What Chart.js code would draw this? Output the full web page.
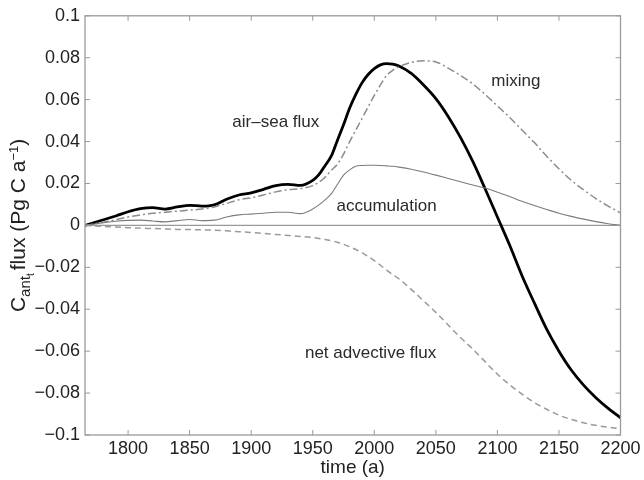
<!DOCTYPE html>
<html>
<head>
<meta charset="utf-8">
<script src="https://cdn.jsdelivr.net/npm/chart.js@4.4.1/dist/chart.umd.min.js"></script>
<style>
  body { margin: 0; background: #fff; }
  canvas { display: block; }
</style>
</head>
<body>
<canvas id="chart" width="644" height="480"></canvas>
<script>
// values (Pg C per year)
const years = [1765, 1780, 1790, 1800, 1810, 1820, 1830, 1840, 1850, 1860, 1870, 1880, 1890,
  1900, 1910, 1920, 1930, 1940, 1950, 1955, 1960, 1965, 1970, 1975, 1980, 1985, 1990, 1995,
  2000, 2005, 2010, 2015, 2020, 2030, 2040, 2050, 2060, 2070, 2080, 2090, 2100, 2110, 2120,
  2130, 2140, 2150, 2160, 2170, 2180, 2190, 2200];

const airSea = [0, 0.0027, 0.0045, 0.0065, 0.0080, 0.0085, 0.0078, 0.0088, 0.0096, 0.0092, 0.0098,
  0.0125, 0.0145, 0.0155, 0.0172, 0.0190, 0.0196, 0.0191, 0.0215, 0.0242, 0.0285, 0.0330,
  0.0405, 0.0480, 0.0560, 0.0625, 0.0680, 0.0720, 0.0748, 0.0766, 0.0772, 0.0770, 0.0760,
  0.0725, 0.0670, 0.0605, 0.0520, 0.0420, 0.0305, 0.0175, 0.0040, -0.0095, -0.0240, -0.0370,
  -0.0495, -0.0600, -0.0690, -0.0762, -0.0822, -0.0873, -0.0918];

const mixing = [0, 0.0015, 0.0027, 0.0040, 0.0050, 0.0058, 0.0063, 0.0068, 0.0073, 0.0078, 0.0088,
  0.0105, 0.0122, 0.0132, 0.0145, 0.0160, 0.0170, 0.0175, 0.0190, 0.0206, 0.0230, 0.0262,
  0.0292, 0.0340, 0.0400, 0.0455, 0.0510, 0.0565, 0.0620, 0.0670, 0.0715, 0.0740, 0.0757,
  0.0778, 0.0785, 0.0780, 0.0750, 0.0715, 0.0675, 0.0625, 0.0570, 0.0515, 0.0455, 0.0395,
  0.0330, 0.0270, 0.0215, 0.0170, 0.0128, 0.0092, 0.0060];

const accumulation = [0, 0.0013, 0.0020, 0.0024, 0.0025, 0.0021, 0.0017, 0.0023, 0.0028, 0.0023,
  0.0025, 0.0040, 0.0050, 0.0054, 0.0058, 0.0063, 0.0063, 0.0056, 0.0078, 0.0098, 0.0122,
  0.0150, 0.0195, 0.0240, 0.0265, 0.0282, 0.0286, 0.0287, 0.0287, 0.0286, 0.0284, 0.0282,
  0.0278, 0.0268, 0.0255, 0.0240, 0.0224, 0.0208, 0.0193, 0.0178, 0.0158, 0.0138, 0.0115,
  0.0095, 0.0076, 0.0058, 0.0043, 0.0030, 0.0018, 0.0008, 0];

const netAdvective = [0, -0.0005, -0.0008, -0.0011, -0.0013, -0.0015, -0.0017, -0.0019, -0.0020,
  -0.0021, -0.0023, -0.0026, -0.0030, -0.0034, -0.0038, -0.0043, -0.0048, -0.0053, -0.0058,
  -0.0062, -0.0067, -0.0073, -0.0080, -0.0090, -0.0102, -0.0115, -0.0130, -0.0148, -0.0168,
  -0.0190, -0.0213, -0.0235, -0.0255, -0.0305, -0.0360, -0.0415, -0.0475, -0.0535, -0.0590,
  -0.0650, -0.0710, -0.0760, -0.0805, -0.0845, -0.0877, -0.0905, -0.0926, -0.0942, -0.0954,
  -0.0963, -0.0970];

const xTicks = [1800, 1850, 1900, 1950, 2000, 2050, 2100, 2150, 2200];
const yTicks = [-0.1, -0.08, -0.06, -0.04, -0.02, 0, 0.02, 0.04, 0.06, 0.08, 0.1];

// curve names written in the plot, anchored in data units
const curveNames = [
  { text: "air\u2013sea flux", x: 1920, y: 0.047 },
  { text: "mixing", x: 2115, y: 0.0663 },
  { text: "accumulation", x: 2010, y: 0.0069 },
  { text: "net advective flux", x: 1997, y: -0.0633 },
];

const FONT = '"Liberation Sans", Arial, Helvetica, sans-serif';
const pts = vals => years.map((x, i) => ({ x, y: vals[i] }));

function line(vals, color, width, dash) {
  return {
    data: pts(vals),
    borderColor: color,
    borderWidth: width,
    borderDash: dash || [],
    pointRadius: 0,
    fill: false,
    cubicInterpolationMode: "monotone",
  };
}

// draw "C_{ant_t} flux (Pg C a^{-1})" rotated, centred on the plot
function drawYTitle(ctx, area) {
  const parts = [
    { t: "C", size: 21, dy: 0 },
    { t: "ant", size: 15, dy: 5 },
    { t: "t", size: 10, dy: 9, noAdvance: true },
    { t: " flux (Pg C a", size: 21, dy: 0 },
    { t: "\u22121", size: 13, dy: -7 },
    { t: ")", size: 21, dy: 0 },
  ];
  let total = 0;
  parts.forEach(p => {
    ctx.font = p.size + "px " + FONT;
    p.w = ctx.measureText(p.t).width;
    if (!p.noAdvance) total += p.w;
  });
  ctx.save();
  ctx.translate(25, (area.top + area.bottom) / 2 + total / 2);
  ctx.rotate(-Math.PI / 2);
  ctx.fillStyle = "#222";
  ctx.textBaseline = "alphabetic";
  ctx.textAlign = "left";
  let x = 0;
  parts.forEach(p => {
    ctx.font = p.size + "px " + FONT;
    ctx.fillText(p.t, x, p.dy);
    if (!p.noAdvance) x += p.w;
  });
  ctx.restore();
}

const frame = {
  id: "frame",
  beforeDatasetsDraw(chart) {
    const { ctx, chartArea: a, scales: { y } } = chart;
    const y0 = y.getPixelForValue(0);
    ctx.save();
    ctx.strokeStyle = "#999";
    ctx.lineWidth = 1.2;
    ctx.beginPath();
    ctx.moveTo(a.left, y0);
    ctx.lineTo(a.right, y0);
    ctx.stroke();
    ctx.restore();
  },
  afterDatasetsDraw(chart) {
    const { ctx, chartArea: a, scales: { x, y } } = chart;
    ctx.save();
    ctx.strokeStyle = "#9a9a9a";
    ctx.lineWidth = 1.3;
    ctx.strokeRect(a.left, a.top, a.right - a.left, a.bottom - a.top);
    ctx.lineWidth = 1;
    ctx.beginPath();
    xTicks.forEach(v => {
      const px = x.getPixelForValue(v);
      ctx.moveTo(px, a.bottom); ctx.lineTo(px, a.bottom - 5);
      ctx.moveTo(px, a.top); ctx.lineTo(px, a.top + 5);
    });
    yTicks.forEach(v => {
      const py = y.getPixelForValue(v);
      ctx.moveTo(a.left, py); ctx.lineTo(a.left + 5, py);
      ctx.moveTo(a.right, py); ctx.lineTo(a.right - 5, py);
    });
    ctx.stroke();

    ctx.fillStyle = "#2a2a2a";
    ctx.font = "17px " + FONT;
    ctx.textAlign = "center";
    ctx.textBaseline = "alphabetic";
    curveNames.forEach(n => {
      ctx.fillText(n.text, x.getPixelForValue(n.x), y.getPixelForValue(n.y));
    });
    ctx.restore();
    drawYTitle(ctx, a);
  },
};

new Chart(document.getElementById("chart"), {
  type: "line",
  data: {
    datasets: [
      line(netAdvective, "#9a9a9a", 1.5, [6, 4]),
      line(accumulation, "#7c7c7c", 1.1),
      line(mixing, "#8c8c8c", 1.5, [8, 3, 2, 3]),
      line(airSea, "#000", 2.8),
    ],
  },
  options: {
    responsive: false,
    animation: false,
    layout: { padding: { top: 13, right: 23.5, left: 0, bottom: 0 } },
    plugins: { legend: { display: false }, tooltip: { enabled: false } },
    scales: {
      x: {
        type: "linear",
        min: 1765,
        max: 2200,
        afterBuildTicks: s => { s.ticks = xTicks.map(v => ({ value: v })); },
        afterFit: s => { s.height = 45; },
        grid: { drawOnChartArea: false, drawTicks: false },
        border: { display: false },
        ticks: {
          font: { size: 18, family: FONT },
          color: "#222",
          padding: 3,
          maxRotation: 0,
          callback: v => String(v),
        },
        title: { display: true, text: "time (a)", font: { size: 19, family: FONT }, color: "#222", padding: { top: 0, bottom: 1 } },
      },
      y: {
        min: -0.1,
        max: 0.1,
        afterBuildTicks: s => { s.ticks = yTicks.map(v => ({ value: v })); },
        afterFit: s => { s.width = 85; },
        grid: { drawOnChartArea: false, drawTicks: false },
        border: { display: false },
        ticks: {
          font: { size: 18, family: FONT },
          color: "#222",
          padding: 5,
          callback: v => String(Math.round(v * 100) / 100).replace("-", "\u2212"),
        },
      },
    },
  },
  plugins: [frame],
});
</script>
</body>
</html>
